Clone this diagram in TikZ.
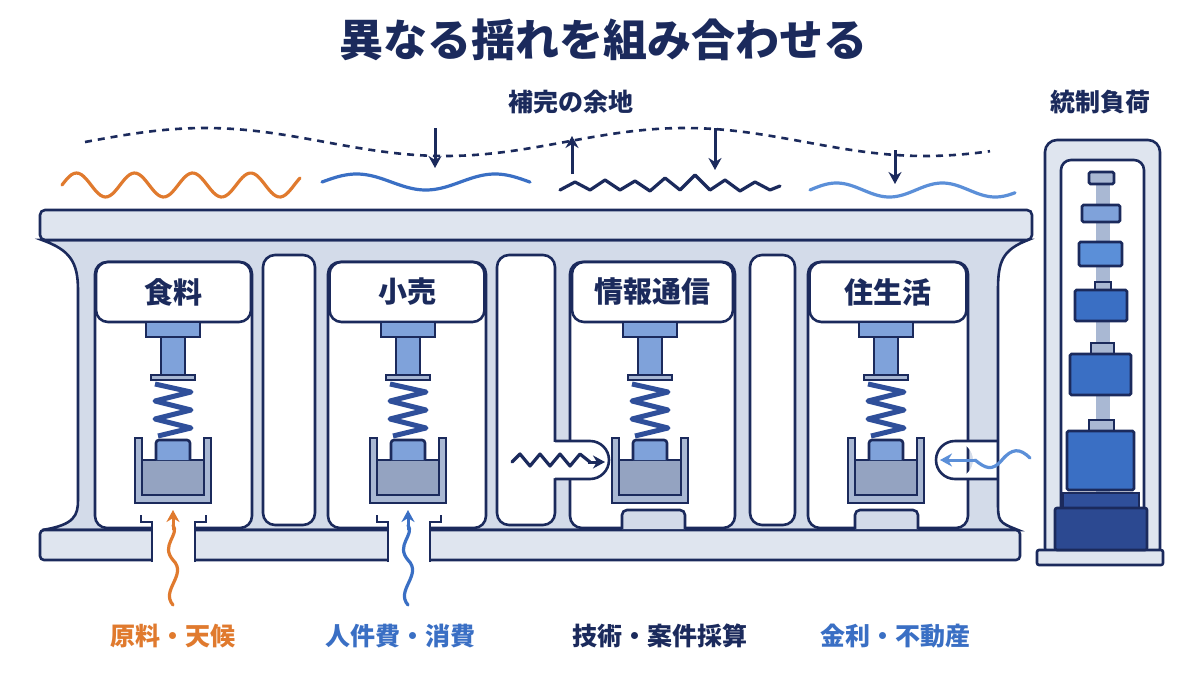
\documentclass[tikz,border=0pt]{standalone}
\usepackage{fontspec}
\setmainfont{Noto Sans CJK JP}
\usetikzlibrary{arrows.meta}
\definecolor{navy}{HTML}{1B2A5C}
\definecolor{ffill}{HTML}{D3DBE9}
\definecolor{bfill}{HTML}{DFE5EF}
\definecolor{mblue}{HTML}{3A6FC4}
\definecolor{lblue}{HTML}{5B8FD8}
\definecolor{oran}{HTML}{E07A2E}
\definecolor{pblue}{HTML}{7FA2DA}
\definecolor{gblue}{HTML}{A9B8D3}
\definecolor{dblue}{HTML}{2F4F9A}
\tikzset{
 ln/.style={draw=navy,line width=2.6pt},
 cell/.style={ln,fill=white,rounded corners=12pt},
 lab/.style={font=\bfseries\fontsize{29}{32}\selectfont,text=navy},
 bot/.style={font=\bfseries\fontsize{25}{28}\selectfont},
 wv/.style={line width=3.2pt,line cap=round},
 arr/.style={line width=3pt,-{Stealth[length=12pt,width=13pt]}},
 blk/.style={ln,fill=mblue,rounded corners=1.5pt},
}
\newcommand{\damper}[2]{%
 \fill[pblue,draw=navy,line width=2pt] (#1-27,322) rectangle (#1+27,337);
 \fill[pblue,draw=navy,line width=2pt] (#1-12,337) rectangle (#1+12,375);
 \draw[navy,line width=2.2pt,fill=gblue] (#1-22,375) rectangle (#1+22,380);
 \draw[dblue,line width=5pt,line join=round] (#1-18,384) -- (#1+18,392) -- (#1-18,401) -- (#1+18,410) -- (#1-18,419) -- (#1+18,428) -- (#1-15,436);
 \draw[ln,fill=gblue] (#1-38,438) -- (#1-38,503) -- (#1+38,503) -- (#1+38,438) -- (#1+31,438) -- (#1+31,495) -- (#1-31,495) -- (#1-31,438) -- cycle;
 \draw[ln,fill=gblue!85!navy] (#1-31,460) rectangle (#1+31,495);
 \draw[ln,fill=pblue,rounded corners=3pt] (#1-17,460) -- (#1-17,440) -- (#1+17,440) -- (#1+17,460);
 \node[lab] (#2) at (#1,295) {};
}
\begin{document}
\begin{tikzpicture}[x=1pt,y=-1pt]
\useasboundingbox[fill=white] (0,0) rectangle (1200,675);
\node[font=\bfseries\fontsize{44}{48}\selectfont,text=navy] (title) at (603,40) {異なる揺れを組み合わせる};
\node[font=\bfseries\fontsize{25}{28}\selectfont,text=navy] (hokan) at (571,102) {補完の余地};
\node[font=\bfseries\fontsize{25}{28}\selectfont,text=navy] (tosei) at (1100,102) {統制負荷};
% dashed wave
\draw[navy,line width=2.6pt,dash pattern=on 7pt off 6pt,domain=85:990,samples=200] plot (\x,{142-14*sin((\x-85)*0.75)});
% small waves
\draw[oran,wv,domain=62:300,samples=100] plot (\x,{185-12*sin((\x-62)*6.2)});
\draw[mblue,wv,domain=322:530,samples=100] plot (\x,{182-8*sin((\x-322)*2.6)});
\draw[navy,wv,line join=round] (560,190) -- (575,182) -- (590,190) -- (605,180) -- (620,190) -- (635,181) -- (650,191) -- (665,178) -- (680,190) -- (695,175) -- (710,190) -- (725,180) -- (740,191) -- (755,182) -- (770,190) -- (780,186);
\draw[lblue,wv,domain=810:1015,samples=100] plot (\x,{190-7*sin((\x-810)*3.4)});
\coordinate (a1s) at (435,128); \coordinate (a1e) at (435,168);
\coordinate (a2s) at (572,174); \coordinate (a2e) at (572,136);
\coordinate (a3s) at (715,128); \coordinate (a3e) at (715,170);
\coordinate (a4s) at (895,150); \coordinate (a4e) at (895,184);
\draw[navy,arr] (a1s) -- (a1e);
\draw[navy,arr] (a2s) -- (a2e);
\draw[navy,arr] (a3s) -- (a3e);
\draw[navy,arr] (a4s) -- (a4e);
% frame body
\draw[ln,fill=ffill] (42,240) -- (1028,240) .. controls (1002,250) and (998,262) .. (998,290) -- (998,500) .. controls (998,522) .. (1018,530) -- (42,530) .. controls (75,525) and (78,515) .. (78,500) -- (78,290) .. controls (78,262) and (70,250) .. cycle;
\draw[ln,fill=bfill,rounded corners=5pt] (40,210) rectangle (1032,240);
% cells
\draw[cell] (95,262) rectangle (252,528);
\draw[cell] (263,255) rectangle (315,525);
\draw[cell] (328,262) rectangle (486,528);
\draw[cell] (497,255) rectangle (555,525);
\draw[cell] (570,262) rectangle (735,528);
\draw[cell] (750,255) rectangle (795,525);
\draw[cell] (808,262) rectangle (968,528);
% bottom beam
\draw[ln,fill=bfill,rounded corners=4pt] (40,530) rectangle (1020,560);
% gaps for inputs
\fill[white] (152,514) rectangle (195,564);
\fill[white] (388,514) rectangle (430,564);
\draw[ln] (152,562) -- (152,522) -- (141,522) -- (141,515);
\draw[ln] (195,562) -- (195,522) -- (206,522) -- (206,515);
\draw[ln] (388,562) -- (388,522) -- (377,522) -- (377,515);
\draw[ln] (430,562) -- (430,522) -- (441,522) -- (441,515);
% pedestals in cells 3,4
\draw[ln,fill=ffill,rounded corners=5pt] (622,529) -- (622,510) -- (685,510) -- (685,529);
\draw[ln,fill=ffill,rounded corners=5pt] (855,529) -- (855,510) -- (918,510) -- (918,529);
% side bumps
\fill[white] (552,442) rectangle (590,478) (590,460) circle (18);
\draw[ln] (555,441) -- (590,441) arc (-90:90:19) -- (555,479);
\fill[white] (955,442) rectangle (996,478) (955,460) circle (18);
\draw[ln] (998,441) -- (955,441) arc (-90:-270:19) -- (998,479);
% labels
\node[cell,minimum width=155pt,minimum height=60pt] (l1) at (173.5,292) {};
\node[cell,minimum width=155pt,minimum height=60pt] (l2) at (407,292) {};
\node[cell,minimum width=161pt,minimum height=60pt] (l3) at (652.5,292) {};
\node[cell,minimum width=157pt,minimum height=60pt] (l4) at (888,292) {};
\node[lab] at (l1) {食料};
\node[lab] at (l2) {小売};
\node[lab] at (l3) {情報通信};
\node[lab] at (l4) {住生活};
\damper{173}{d1}
\damper{408}{d2}
\damper{650}{d3}
\damper{886}{d4}
% inputs
\draw[oran,wv] (173,605) .. controls (160,590) and (188,575) .. (173,560) .. controls (160,545) and (180,535) .. (173,525);
\draw[oran,arr] (173,530) -- (173,510);
\draw[mblue,wv] (408,605) .. controls (395,590) and (423,575) .. (408,560) .. controls (395,545) and (415,535) .. (408,525);
\draw[mblue,arr] (408,530) -- (408,510);
\draw[navy,wv,line join=round] (512,462) -- (520,454) -- (530,466) -- (540,454) -- (550,466) -- (560,454) -- (570,466) -- (580,454) -- (590,462);
\draw[navy,arr] (588,462) -- (605,462);
\draw[lblue,wv] (1030,458) .. controls (1020,448) and (1012,448) .. (1002,460) .. controls (992,472) and (985,468) .. (975,460);
\draw[lblue,arr] (976,460) -- (940,460);
% bottom labels
\node[bot,text=oran] (b1) at (173,636) {原料・天候};
\node[bot,text=mblue] (b2) at (400,636) {人件費・消費};
\node[bot,text=navy] (b3) at (660,636) {技術・案件採算};
\node[bot,text=mblue] (b4) at (895,636) {金利・不動産};
% tower
\draw[ln,fill=bfill,rounded corners=12pt] (1045,140) rectangle (1160,560);
\draw[ln,fill=white,rounded corners=10pt] (1061,160) rectangle (1144,530);
\draw[ln,fill=bfill,rounded corners=2pt] (1037,550) rectangle (1163,565);
\fill[gblue] (1096,183) rectangle (1110,500);
\draw[ln,fill=gblue,rounded corners=1.5pt] (1089,172) rectangle (1114,184);
\draw[blk,fill=pblue] (1082,205) rectangle (1120,222);
\draw[blk,fill=lblue] (1079,242) rectangle (1122,266);
\draw[ln,fill=gblue] (1095,282) rectangle (1111,290);
\draw[blk] (1075,290) rectangle (1127,321);
\draw[ln,fill=gblue] (1091,343) rectangle (1114,354);
\draw[blk] (1070,354) rectangle (1131,395);
\draw[ln,fill=gblue] (1089,420) rectangle (1114,431);
\draw[blk] (1067,431) rectangle (1134,490);
\draw[ln,fill=dblue] (1063,493) rectangle (1139,508);
\draw[ln,fill=dblue!85!navy,rounded corners=2pt] (1055,508) rectangle (1147,550);
\end{tikzpicture}
\end{document}
